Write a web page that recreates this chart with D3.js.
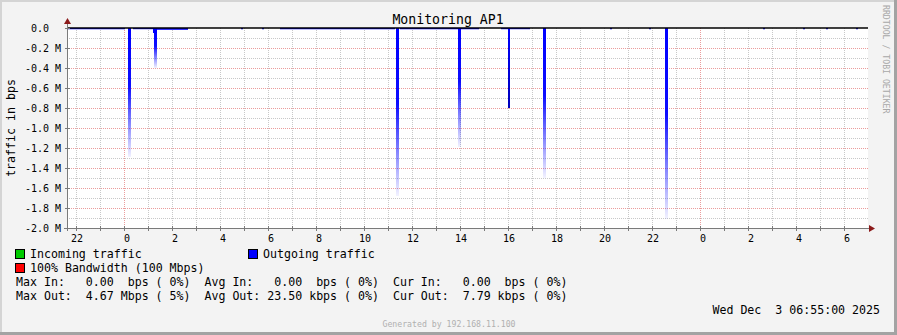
<!DOCTYPE html>
<html>
<head>
<meta charset="utf-8">
<script src="https://cdn.jsdelivr.net/npm/d3@7"></script>
<style>
  body { margin: 0; background: #fff; }
  text { font-family: "DejaVu Sans Mono", monospace; white-space: pre; }
</style>
</head>
<body>
<div id="chart-holder"></div>
<script>
// hours are counted from midnight Dec 2, values in M (mega bps), outgoing drawn negative
var hourTicks = [-2, 0, 2, 4, 6, 8, 10, 12, 14, 16, 18, 20, 22, 24, 26, 28, 30];
var hourLabels = ['22', '0', '2', '4', '6', '8', '10', '12', '14', '16', '18', '20', '22', '0', '2', '4', '6'];
var yTicks = [0, -0.2, -0.4, -0.6, -0.8, -1.0, -1.2, -1.4, -1.6, -1.8, -2.0];
var yLabels = ['0.0  ', '-0.2 M', '-0.4 M', '-0.6 M', '-0.8 M', '-1.0 M', '-1.2 M', '-1.4 M', '-1.6 M', '-1.8 M', '-2.0 M'];

// outgoing traffic spikes
var spikeHours = [0.21, 1.33, 11.39, 13.96, 16.05, 17.5, 22.61];
var spikeValues = [-1.29, -0.40, -1.68, -1.19, -0.80, -1.50, -1.91];
var spikeFades = [true, true, true, true, false, true, true];

// low background outgoing traffic
var lowStart = [-2.38, 0.38, 1.20, 1.38, 4.88, 5.75, 6.50, 11.50, 15.70, 20.25, 21.88, 26.63, 28.30, 29.25, 30.50];
var lowEnd = [0.04, 1.20, 1.38, 2.67, 4.96, 5.83, 11.30, 14.80, 16.90, 20.33, 21.96, 26.71, 28.38, 29.33, 30.58];
var lowValues = [-0.012, -0.012, -0.05, -0.018, -0.012, -0.012, -0.012, -0.012, -0.012, -0.012, -0.012, -0.012, -0.012, -0.012, -0.012];

var legendRows = [
    'Max In:   0.00  bps ( 0%)  Avg In:   0.00  bps ( 0%)  Cur In:   0.00  bps ( 0%)',
    'Max Out:  4.67 Mbps ( 5%)  Avg Out: 23.50 kbps ( 0%)  Cur Out:  7.79 kbps ( 0%)'
];

function buildChart(containerId) {
    var width = 897;
    var height = 335;

    var svg = d3
        .select(containerId)
        .append('svg')
        .attr('width', width)
        .attr('height', height);

    // background with frame
    svg.append('rect').attr('width', width).attr('height', height).attr('fill', '#f3f3f3');
    svg.append('rect').attr('x', 0).attr('y', 0).attr('width', width).attr('height', 2).attr('fill', '#d4d4d4');
    svg.append('rect').attr('x', 0).attr('y', 0).attr('width', 2).attr('height', height).attr('fill', '#d4d4d4');
    svg.append('rect').attr('x', width - 3).attr('y', 0).attr('width', 3).attr('height', height).attr('fill', '#a3a3a3');
    svg.append('rect').attr('x', 0).attr('y', height - 3).attr('width', width).attr('height', 3).attr('fill', '#a3a3a3');

    // scales
    var x = d3.scaleLinear().domain([-2.375, 31]).range([67, 868]);
    var y = d3.scaleLinear().domain([-2, 0]).range([228, 28]);

    // canvas
    svg.append('rect')
        .attr('x', x.range()[0]).attr('y', y(0))
        .attr('width', x.range()[1] - x.range()[0])
        .attr('height', y(-2) - y(0))
        .attr('fill', '#ffffff');

    var g = svg.append('g').attr('class', 'grid');

    // minor horizontal grid
    var minorY = d3.range(1, 20).map(function(i) { return -i / 10; }).filter(function(v, i) { return i % 2 === 0; });
    g.selectAll('.hminor').data(minorY).enter().append('line')
        .attr('x1', x.range()[0]).attr('x2', x.range()[1])
        .attr('y1', function(d) { return Math.round(y(d)) + 0.5; })
        .attr('y2', function(d) { return Math.round(y(d)) + 0.5; })
        .attr('stroke', '#c8c8c8').attr('stroke-dasharray', '1,1');

    // minor vertical grid every hour
    var hours = d3.range(-2, 31).filter(function(h) { return h % 24 !== 0; });
    g.selectAll('.vminor').data(hours).enter().append('line')
        .attr('x1', function(d) { return Math.round(x(d)) + 0.5; })
        .attr('x2', function(d) { return Math.round(x(d)) + 0.5; })
        .attr('y1', y(0)).attr('y2', y(-2))
        .attr('stroke', '#c8c8c8').attr('stroke-dasharray', '1,1');

    // major grid
    g.selectAll('.hmajor').data(yTicks.slice(1, -1)).enter().append('line')
        .attr('x1', x.range()[0]).attr('x2', x.range()[1])
        .attr('y1', function(d) { return Math.round(y(d)) + 0.5; })
        .attr('y2', function(d) { return Math.round(y(d)) + 0.5; })
        .attr('stroke', '#eb9c9c').attr('stroke-dasharray', '1,1');

    g.selectAll('.vmajor').data([0, 24]).enter().append('line')
        .attr('x1', function(d) { return Math.round(x(d)) + 0.5; })
        .attr('x2', function(d) { return Math.round(x(d)) + 0.5; })
        .attr('y1', y(0)).attr('y2', y(-2))
        .attr('stroke', '#eb9c9c').attr('stroke-dasharray', '1,1');

    // gradients for spikes
    var defs = svg.append('defs');
    spikeHours.forEach(function(h, i) {
        var grad = defs.append('linearGradient')
            .attr('id', 'spike' + i)
            .attr('x1', 0).attr('y1', 0).attr('x2', 0).attr('y2', 1);
        if (spikeFades[i]) {
            grad.append('stop').attr('offset', 0).attr('stop-color', '#0000ff').attr('stop-opacity', 1);
            grad.append('stop').attr('offset', 0.45).attr('stop-color', '#0000ff').attr('stop-opacity', 0.95);
            grad.append('stop').attr('offset', 1).attr('stop-color', '#0000ff').attr('stop-opacity', 0.05);
        } else {
            grad.append('stop').attr('offset', 0).attr('stop-color', '#0000ff').attr('stop-opacity', 1);
            grad.append('stop').attr('offset', 1).attr('stop-color', '#0000bb').attr('stop-opacity', 1);
        }
    });

    // pixel snapped area
    var area = d3.area()
        .x(function(d) { return Math.round(x(d[0])); })
        .y0(y(0))
        .y1(function(d) { return y(d[1]); });

    // low traffic
    var plot = svg.append('g').attr('class', 'traffic');
    lowStart.forEach(function(s, i) {
        plot.append('path')
            .attr('d', area([[s, lowValues[i]], [lowEnd[i], lowValues[i]]]))
            .attr('fill', '#0000ff');
    });

    // spikes, about three pixels wide (narrower for the flat one)
    spikeHours.forEach(function(h, i) {
        var halfW = spikeFades[i] ? 1.5 / 24 : 1 / 24;
        plot.append('path')
            .attr('d', area([[h - halfW, spikeValues[i]], [h + halfW, spikeValues[i]]]))
            .attr('fill', 'url(#spike' + i + ')');
    });

    // zero line
    svg.append('line')
        .attr('x1', x.range()[0]).attr('x2', x.range()[1])
        .attr('y1', y(0)).attr('y2', y(0))
        .attr('stroke', '#000').attr('stroke-width', 1.6);

    // axes
    svg.append('line')
        .attr('x1', 67.5).attr('x2', 67.5).attr('y1', 22).attr('y2', 231)
        .attr('stroke', '#7a7a7a');
    svg.append('line')
        .attr('x1', 64).attr('x2', 871).attr('y1', 228.5).attr('y2', 228.5)
        .attr('stroke', '#7a7a7a');
    svg.append('path').attr('d', 'M64,24 L67.5,18 L71,24 Z').attr('fill', '#8b1a1a');
    svg.append('path').attr('d', 'M869,225 L875,228.5 L869,232 Z').attr('fill', '#8b1a1a');

    // y ticks and labels
    svg.selectAll('.ytick').data(yTicks).enter().append('line')
        .attr('x1', 65).attr('x2', 70)
        .attr('y1', function(d) { return Math.round(y(d)) + 0.5; })
        .attr('y2', function(d) { return Math.round(y(d)) + 0.5; })
        .attr('stroke', '#7a7a7a');
    svg.selectAll('.ylabel').data(yTicks).enter().append('text')
        .attr('x', 61)
        .attr('y', function(d) { return y(d); })
        .attr('dy', '0.35em')
        .attr('text-anchor', 'end')
        .style('font-size', '10px')
        .attr('fill', '#000')
        .text(function(d, i) { return yLabels[i]; });

    // x ticks and labels
    svg.selectAll('.xtick').data(d3.range(-2, 31)).enter().append('line')
        .attr('x1', function(d) { return Math.round(x(d)) + 0.5; })
        .attr('x2', function(d) { return Math.round(x(d)) + 0.5; })
        .attr('y1', 226).attr('y2', 231)
        .attr('stroke', '#7a7a7a');
    svg.selectAll('.xlabel').data(hourTicks).enter().append('text')
        .attr('x', function(d, i) { return x(d) + (hourLabels[i].length === 1 ? 3 : 1); })
        .attr('y', 238)
        .attr('dy', '0.35em')
        .attr('text-anchor', 'middle')
        .style('font-size', '10px')
        .attr('fill', '#000')
        .text(function(d, i) { return hourLabels[i]; });

    // title
    svg.append('text')
        .attr('x', 448).attr('y', 19)
        .attr('dy', '0.35em')
        .attr('text-anchor', 'middle')
        .style('font-size', '13.2px')
        .text('Monitoring AP1');

    // y axis label
    svg.append('text')
        .attr('transform', 'translate(11,128) rotate(-90)')
        .attr('dy', '0.35em')
        .attr('text-anchor', 'middle')
        .style('font-size', '11.6px')
        .text('traffic in bps');

    // watermark
    svg.append('text')
        .attr('transform', 'translate(886,5) rotate(90)')
        .attr('dy', '0.35em')
        .style('font-size', '8.2px')
        .attr('fill', '#a8a8a8')
        .text('RRDTOOL / TOBI OETIKER');

    // legend
    var legendBoxes = [
        { x: 15, y: 249, color: '#00cc00', label: 'Incoming traffic' },
        { x: 248, y: 249, color: '#0000ff', label: 'Outgoing traffic' },
        { x: 15, y: 263, color: '#ff0000', label: '100% Bandwidth (100 Mbps)' }
    ];
    var lg = svg.selectAll('.legend').data(legendBoxes).enter().append('g');
    lg.append('rect')
        .attr('x', function(d) { return d.x + 0.5; })
        .attr('y', function(d) { return d.y + 0.5; })
        .attr('width', 9).attr('height', 9)
        .attr('fill', function(d) { return d.color; })
        .attr('stroke', '#000');
    lg.append('text')
        .attr('x', function(d) { return d.x + 15; })
        .attr('y', function(d) { return d.y + 5; })
        .attr('dy', '0.35em')
        .style('font-size', '11.6px')
        .text(function(d) { return d.label; });

    svg.selectAll('.stats').data(legendRows).enter().append('text')
        .attr('x', 16)
        .attr('y', function(d, i) { return 282 + i * 14; })
        .attr('dy', '0.35em')
        .style('font-size', '11.6px')
        .text(function(d) { return d; });

    svg.append('text')
        .attr('x', 880).attr('y', 310)
        .attr('dy', '0.35em')
        .attr('text-anchor', 'end')
        .style('font-size', '11.6px')
        .text('Wed Dec  3 06:55:00 2025');

    svg.append('text')
        .attr('x', 449).attr('y', 324)
        .attr('dy', '0.35em')
        .attr('text-anchor', 'middle')
        .style('font-size', '8.2px')
        .attr('fill', '#b0b0b0')
        .text('Generated by 192.168.11.100');
}

buildChart('#chart-holder');
</script>
</body>
</html>
